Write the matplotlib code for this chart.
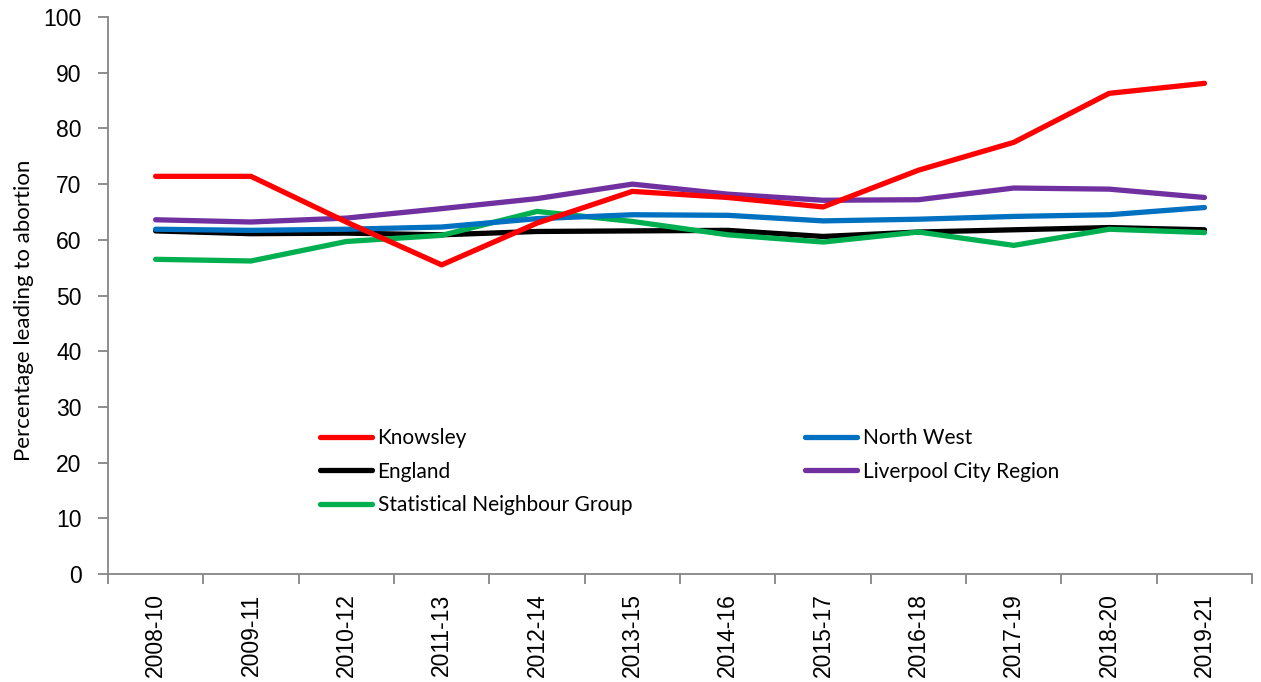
import numpy as np
import matplotlib
matplotlib.use("Agg")
import matplotlib.pyplot as plt

# three-year rolling periods
periods = ["2008-10", "2009-11", "2010-12", "2011-13", "2012-14", "2013-15",
           "2014-16", "2015-17", "2016-18", "2017-19", "2018-20", "2019-21"]

# percentage of conceptions leading to abortion
knowsley = [71.4, 71.4, 63.2, 55.5, 63.0, 68.7, 67.6, 65.9, 72.5, 77.5, 86.3, 88.1]
north_west = [61.9, 61.7, 61.9, 62.3, 63.8, 64.5, 64.4, 63.4, 63.7, 64.2, 64.5, 65.8]
england = [61.6, 61.1, 61.2, 60.9, 61.5, 61.6, 61.7, 60.6, 61.4, 61.8, 62.2, 61.8]
lcr = [63.6, 63.2, 63.9, 65.6, 67.4, 70.0, 68.2, 67.1, 67.2, 69.3, 69.1, 67.6]
sng = [56.5, 56.2, 59.7, 60.8, 65.1, 63.3, 60.9, 59.6, 61.4, 59.0, 61.9, 61.3]

fig = plt.figure(figsize=(12.61, 6.82), dpi=100)
ax = fig.add_axes([0.0856, 0.1584, 0.9074, 0.8166])

x = np.arange(len(periods))
lw = 3.8
l_kn, = ax.plot(x, knowsley, color="#FF0000", lw=lw, solid_capstyle="round", label="Knowsley")
l_nw, = ax.plot(x, north_west, color="#0070C0", lw=lw, solid_capstyle="round", label="North West")
l_en, = ax.plot(x, england, color="#000000", lw=lw, solid_capstyle="round", label="England")
l_lcr, = ax.plot(x, lcr, color="#7030A0", lw=lw, solid_capstyle="round", label="Liverpool City Region")
l_sng, = ax.plot(x, sng, color="#00B050", lw=lw, solid_capstyle="round", label="Statistical Neighbour Group")

# Knowsley drawn on top of the comparators
l_kn.set_zorder(6)
l_lcr.set_zorder(5)
l_nw.set_zorder(4)
l_sng.set_zorder(3)
l_en.set_zorder(2)

ax.set_xlim(-0.5, len(periods) - 0.5)
ax.set_ylim(0, 100)
ax.set_yticks(np.arange(0, 101, 10))

# category ticks sit between the periods, labels in the middle
ax.set_xticks(np.arange(-0.5, len(periods), 1.0))
ax.set_xticklabels([])
ax.set_xticks(x, minor=True)
ax.set_xticklabels(periods, minor=True, rotation=90, fontsize=16.5,
                   family="Liberation Sans")
ax.tick_params(axis="x", which="minor", length=0, pad=14)
ax.tick_params(axis="x", which="major", length=7, color="#868686", width=1.3)
ax.tick_params(axis="y", length=7, color="#868686", width=1.3, labelsize=16.5, pad=12)
for t in ax.get_yticklabels():
    t.set_family("Liberation Sans")

for s in ["top", "right"]:
    ax.spines[s].set_visible(False)
for s in ["left", "bottom"]:
    ax.spines[s].set_color("#868686")
    ax.spines[s].set_linewidth(1.3)

ax.set_ylabel("Percentage leading to abortion", fontsize=16, family="Lato")
ax.yaxis.set_label_coords(-0.065, 0.474)

leg = ax.legend(handles=[l_kn, l_en, l_sng, l_nw, l_lcr], ncol=2, frameon=False,
                loc="upper left", bbox_to_anchor=(0.185, 0.262), borderaxespad=0,
                borderpad=0, prop={"family": "Lato", "size": 15},
                handlelength=2.5, handletextpad=0.28, columnspacing=8.3,
                labelspacing=0.65)

fig.savefig("out.png", dpi=100)
